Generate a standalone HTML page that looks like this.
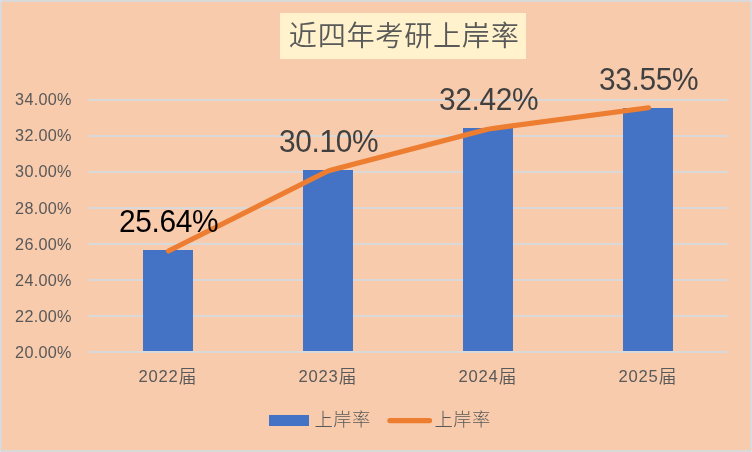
<!DOCTYPE html>
<html lang="zh-CN"><head><meta charset="utf-8"><title>近四年考研上岸率</title>
<style>
html,body{margin:0;padding:0;background:#D9D9D9;}
body{width:752px;height:452px;overflow:hidden;}
svg{display:block}
text{font-family:"Liberation Sans","Noto Sans CJK SC",sans-serif;}
.cjk{font-family:"Liberation Sans","Noto Sans CJK SC",sans-serif;font-weight:350;}
</style></head><body>
<svg width="752" height="452" viewBox="0 0 752 452">
<rect x="0" y="0" width="752" height="452" fill="#D9D9D9"/>
<rect x="2" y="2" width="748" height="448" fill="#F8CBAD"/>
<g fill="#E9E9E9"><rect x="0" y="0" width="1" height="1"/><rect x="751" y="0" width="1" height="1"/><rect x="0" y="451" width="1" height="1"/><rect x="751" y="451" width="1" height="1"/></g>
<rect x="280" y="13" width="246" height="46" fill="#FFF2CC"/>
<text class="cjk" x="288.8" y="45.8" font-size="28.2" letter-spacing="0.65" fill="#595959">近四年考研上岸率</text>
<g stroke="#D9D9D9" stroke-width="2"><line x1="88" x2="728" y1="100" y2="100"/><line x1="88" x2="728" y1="136" y2="136"/><line x1="88" x2="728" y1="172" y2="172"/><line x1="88" x2="728" y1="208" y2="208"/><line x1="88" x2="728" y1="244" y2="244"/><line x1="88" x2="728" y1="280" y2="280"/><line x1="88" x2="728" y1="316" y2="316"/><line x1="88" x2="728" y1="352" y2="352"/></g>
<g font-size="16.2" fill="#595959" text-anchor="end" letter-spacing="0.3"><text x="71.8" y="104.9">34.00%</text><text x="71.8" y="140.9">32.00%</text><text x="71.8" y="176.9">30.00%</text><text x="71.8" y="213.7">28.00%</text><text x="71.8" y="249.7">26.00%</text><text x="71.8" y="285.7">24.00%</text><text x="71.8" y="321.7">22.00%</text><text x="71.8" y="357.7">20.00%</text></g>
<g fill="#4472C4"><rect x="143" y="250" width="50" height="101"/><rect x="303" y="170" width="50" height="181"/><rect x="463" y="128" width="50" height="223"/><rect x="623" y="108" width="50" height="243"/></g>
<path d="M168.50,250.98 L324.92,172.49 Q328.50,170.70 332.37,169.69 L484.63,129.95 Q488.50,128.94 492.47,128.41 L648.50,107.75" fill="none" stroke="#ED7D31" stroke-width="5.1" stroke-linecap="round" stroke-linejoin="round"/>
<g font-size="29.9" fill="#404040" text-anchor="middle" letter-spacing="-0.35"><text transform="translate(168.7,232.3) scale(1,1.018)" fill="#000">25.64%</text><text transform="translate(328.7,152.3) scale(1,1.018)">30.10%</text><text transform="translate(488.7,110.4) scale(1,1.018)">32.42%</text><text transform="translate(648.7,90.4) scale(1,1.018)">33.55%</text></g>
<g class="cjk" font-size="17.7" letter-spacing="0.1" fill="#595959" text-anchor="middle"><text x="167.5" y="381.6"><tspan font-size="16.6" letter-spacing="0.8">2022</tspan><tspan dy="1">届</tspan></text><text x="327.5" y="381.6"><tspan font-size="16.6" letter-spacing="0.8">2023</tspan><tspan dy="1">届</tspan></text><text x="487.5" y="381.6"><tspan font-size="16.6" letter-spacing="0.8">2024</tspan><tspan dy="1">届</tspan></text><text x="647.5" y="381.6"><tspan font-size="16.6" letter-spacing="0.8">2025</tspan><tspan dy="1">届</tspan></text></g>
<rect x="269" y="415" width="40" height="11" fill="#4472C4"/>
<text class="cjk" x="314.6" y="426.1" font-size="18.3" letter-spacing="0.4" style="font-weight:300" fill="#595959">上岸率</text>
<line x1="389.9" x2="429.5" y1="420.6" y2="420.6" stroke="#ED7D31" stroke-width="5.3" stroke-linecap="round"/>
<text class="cjk" x="434.6" y="426.1" font-size="18.3" letter-spacing="0.4" style="font-weight:300" fill="#595959">上岸率</text>
</svg>
</body></html>
